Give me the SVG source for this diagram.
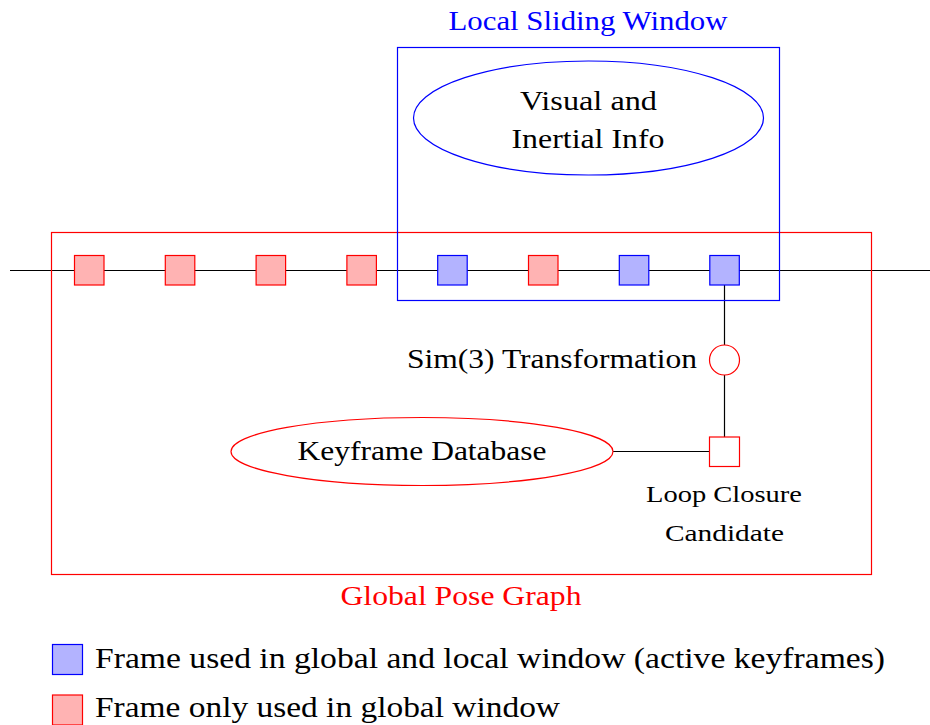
<svg xmlns="http://www.w3.org/2000/svg" width="930" height="725" viewBox="0 0 930 725">
<style>
text{font-family:"Liberation Serif","Times New Roman",serif;fill:#000;font-size:28px}
.t{text-anchor:middle}
.bl{fill:#0000ff}
.rd{fill:#ff0000}
.sm{font-size:23px}
.lg{font-size:30px}
.fb{fill:#b3b3ff;stroke:#0000ff;stroke-width:1.2}
.fr{fill:#ffb3b3;stroke:#ff0000;stroke-width:1.2}
.ln{stroke:#000;stroke-width:1.2;fill:none}
.rb{fill:none;stroke:#ff0000;stroke-width:1.2}
.bb{fill:none;stroke:#0000ff;stroke-width:1.2}
</style>
<rect width="930" height="725" fill="#fff"/>
<g id="connectors">
<line class="ln" x1="10" y1="270.5" x2="930" y2="270.5"/>
<line class="ln" x1="724.5" y1="285" x2="724.5" y2="345"/>
<line class="ln" x1="724.5" y1="375" x2="724.5" y2="437"/>
<line class="ln" x1="613" y1="451.5" x2="709.5" y2="451.5"/>
</g>
<g id="global-pose-graph">
<rect class="rb" x="51.5" y="232.5" width="820" height="342"/>
<text class="t rd" x="461" y="605" textLength="241" lengthAdjust="spacingAndGlyphs">Global Pose Graph</text>
</g>
<g id="local-sliding-window">
<rect class="bb" x="397.5" y="47.5" width="382" height="253"/>
<text class="t bl" x="588" y="30" textLength="279" lengthAdjust="spacingAndGlyphs">Local Sliding Window</text>
</g>
<g id="visual-inertial">
<ellipse class="bb" cx="588.5" cy="118" rx="175" ry="57"/>
<text class="t" x="588.5" y="109.5" textLength="137" lengthAdjust="spacingAndGlyphs">Visual and</text>
<text class="t" x="588" y="147.5" textLength="153" lengthAdjust="spacingAndGlyphs">Inertial Info</text>
</g>
<g id="frames">
<rect class="fr" x="74.5" y="255.5" width="29.5" height="29.5"/>
<rect class="fr" x="165.3" y="255.5" width="29.5" height="29.5"/>
<rect class="fr" x="256.1" y="255.5" width="29.5" height="29.5"/>
<rect class="fr" x="346.9" y="255.5" width="29.5" height="29.5"/>
<rect class="fb" x="437.7" y="255.5" width="29.5" height="29.5"/>
<rect class="fr" x="528.5" y="255.5" width="29.5" height="29.5"/>
<rect class="fb" x="619.3" y="255.5" width="29.5" height="29.5"/>
<rect class="fb" x="709.8" y="255.5" width="29.5" height="29.5"/>
</g>
<g id="sim3">
<circle cx="724.5" cy="360" r="15" fill="#fff" stroke="#ff0000" stroke-width="1.2"/>
<text x="697" y="367.5" text-anchor="end" textLength="290" lengthAdjust="spacingAndGlyphs">Sim(3) Transformation</text>
</g>
<g id="keyframe-database">
<ellipse class="rb" cx="422" cy="451.5" rx="191" ry="34"/>
<text class="t" x="422" y="459.5" textLength="249" lengthAdjust="spacingAndGlyphs">Keyframe Database</text>
</g>
<g id="loop-closure">
<rect x="709.5" y="437" width="30" height="29.5" fill="#fff" stroke="#ff0000" stroke-width="1.2"/>
<text class="t sm" x="724" y="501.5" textLength="156" lengthAdjust="spacingAndGlyphs">Loop Closure</text>
<text class="t sm" x="724.5" y="540.5" textLength="119" lengthAdjust="spacingAndGlyphs">Candidate</text>
</g>
<g id="legend">
<rect class="fb" x="52.5" y="644.5" width="30" height="30"/>
<text class="lg" x="95" y="668" textLength="790" lengthAdjust="spacingAndGlyphs">Frame used in global and local window (active keyframes)</text>
<rect class="fr" x="52.5" y="695" width="30" height="30"/>
<text class="lg" x="95" y="717" textLength="465" lengthAdjust="spacingAndGlyphs">Frame only used in global window</text>
</g>
</svg>
